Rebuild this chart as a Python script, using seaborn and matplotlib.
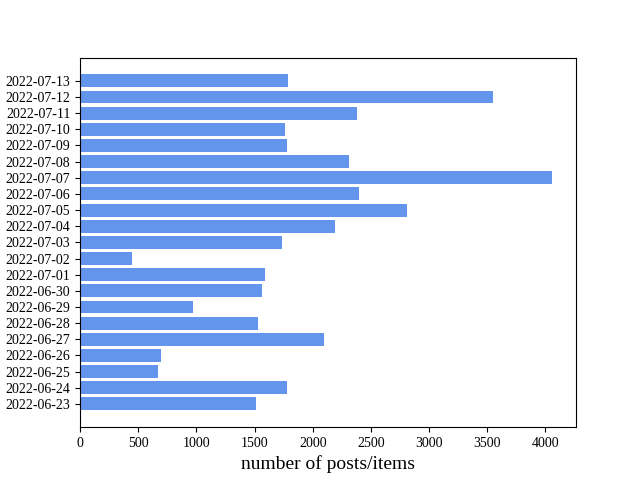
import matplotlib
matplotlib.use("Agg")
import matplotlib.pyplot as plt
import seaborn as sns
import pandas as pd

dates = ["2022-06-23", "2022-06-24", "2022-06-25", "2022-06-26", "2022-06-27",
         "2022-06-28", "2022-06-29", "2022-06-30", "2022-07-01", "2022-07-02",
         "2022-07-03", "2022-07-04", "2022-07-05", "2022-07-06", "2022-07-07",
         "2022-07-08", "2022-07-09", "2022-07-10", "2022-07-11", "2022-07-12",
         "2022-07-13"]
counts = [1514, 1780, 671, 697, 2099, 1531, 972, 1566, 1591, 447,
          1736, 2194, 2813, 2400, 4060, 2312, 1780, 1763, 2383, 3546, 1789]

plt.rcParams['font.family'] = ['Liberation Serif', 'DejaVu Serif']

df = pd.DataFrame({"date": dates, "count": counts})

fig, ax = plt.subplots(figsize=(6.4, 4.8), dpi=100)
sns.barplot(data=df, x="count", y="date", order=dates[::-1], orient="h",
            color="cornflowerblue", saturation=1, width=0.8, linewidth=0, ax=ax)

n = len(dates)
span = (n - 1) + 0.8
ax.set_ylim(n - 1 + 0.4 + 0.05 * span, -0.4 - 0.05 * span)
ax.set_xlim(0, max(counts) * 1.05)
ax.set_xlabel("number of posts/items", fontsize=14)
ax.set_ylabel("")
ax.tick_params(labelsize=10)
for s in ax.spines.values():
    s.set_visible(True)
    s.set_color("black")

fig.savefig("out.png", dpi=100)
